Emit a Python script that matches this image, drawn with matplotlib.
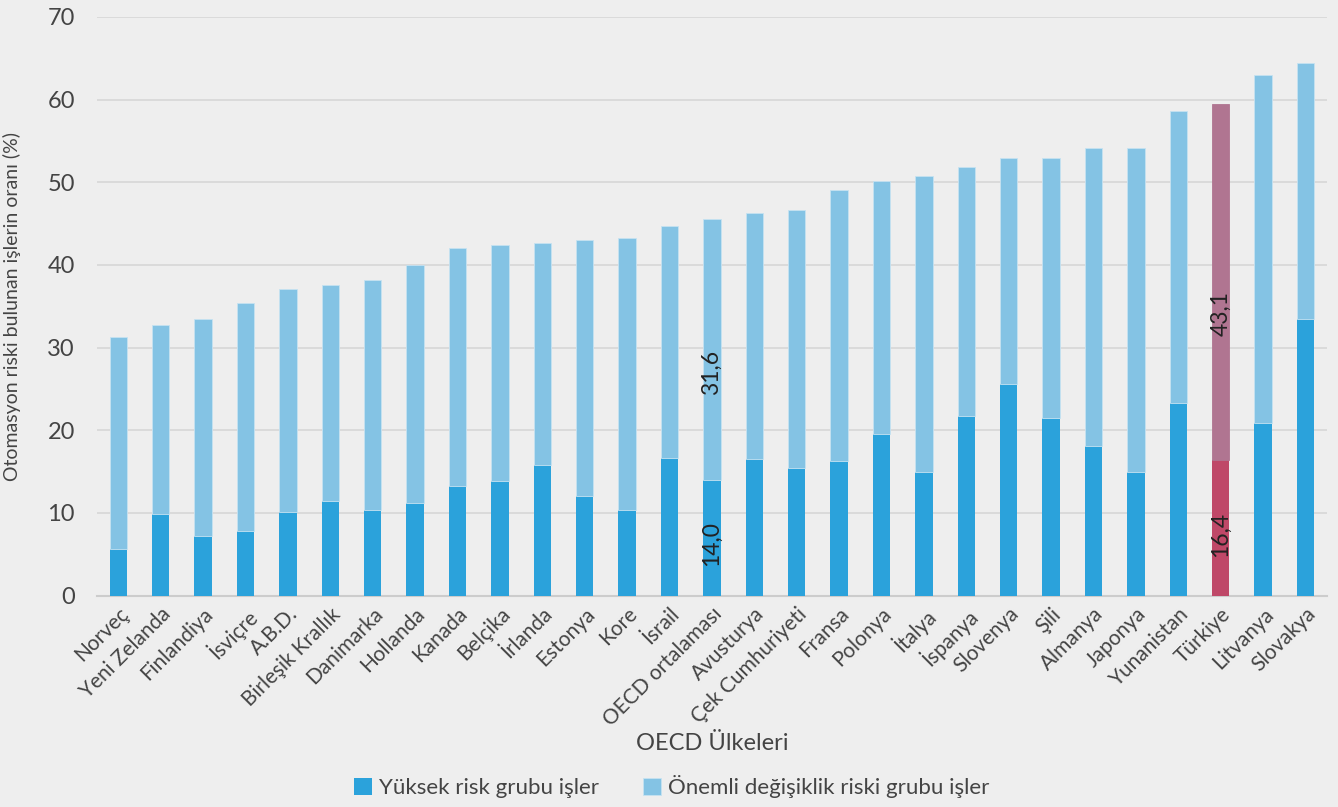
import matplotlib.pyplot as plt

countries = ["Norveç", "Yeni Zelanda", "Finlandiya", "İsviçre", "A.B.D.", "Birleşik Krallık",
             "Danimarka", "Hollanda", "Kanada", "Belçika", "İrlanda", "Estonya", "Kore", "İsrail",
             "OECD ortalaması", "Avusturya", "Çek Cumhuriyeti", "Fransa", "Polonya", "İtalya",
             "İspanya", "Slovenya", "Şili", "Almanya", "Japonya", "Yunanistan", "Türkiye",
             "Litvanya", "Slovakya"]
# high risk share and total share (%)
high_risk = [5.6, 9.9, 7.2, 7.8, 10.1, 11.5, 10.4, 11.2, 13.3, 13.8, 15.8, 12.0, 10.3, 16.6,
             14.0, 16.5, 15.4, 16.3, 19.6, 15.0, 21.7, 25.6, 21.5, 18.1, 14.9, 23.3, 16.4,
             20.9, 33.5]
total = [31.3, 32.7, 33.5, 35.4, 37.1, 37.6, 38.2, 40.0, 42.0, 42.4, 42.6, 43.0, 43.2, 44.7,
         45.6, 46.3, 46.6, 49.1, 50.2, 50.7, 51.8, 52.9, 52.9, 54.2, 54.2, 58.6, 59.5,
         63.0, 64.4]
change_risk = [round(t - h, 1) for t, h in zip(total, high_risk)]
labelled = ["OECD ortalaması", "Türkiye"]

plt.rcParams['font.family'] = ['Lato', 'DejaVu Sans']
bg = "#eeeeee"
dark = "#2ba2db"
light = "#84c3e4"
red_dark = "#bf4868"
red_light = "#b07591"
txt = "#444444"

fig = plt.figure(figsize=(13.38, 8.07), dpi=100, facecolor=bg)
ax = fig.add_axes([0.0725, 0.262, 0.919, 0.717], facecolor=bg)

x = list(range(len(countries)))
c_low = [red_dark if c == "Türkiye" else dark for c in countries]
c_high = [red_light if c == "Türkiye" else light for c in countries]
e_high = [red_light if c == "Türkiye" else "#c6e2f1" for c in countries]
ax.bar(x, high_risk, width=0.41, color=c_low, zorder=3, label="Yüksek risk grubu işler")
ax.bar(x, change_risk, width=0.41, bottom=high_risk, color=c_high, edgecolor=e_high,
       linewidth=0.6, zorder=3, label="Önemli değişiklik riski grubu işler")

for i, c in enumerate(countries):
    if c in labelled:
        ax.text(i, high_risk[i] * 0.45, f"{high_risk[i]:.1f}".replace(".", ","), rotation=90,
                ha="center", va="center", fontsize=16.5, color="#222222", zorder=4)
        ax.text(i, high_risk[i] + change_risk[i] * 0.41, f"{change_risk[i]:.1f}".replace(".", ","),
                rotation=90, ha="center", va="center", fontsize=16.5, color="#222222", zorder=4)

ax.set_ylim(0, 70)
ax.set_yticks(range(0, 71, 10))
ax.set_xlim(-0.5, len(countries) - 0.5)
ax.grid(axis="y", color="#d6d6d6", linewidth=1.2, zorder=0)
for s in ["top", "right", "left"]:
    ax.spines[s].set_visible(False)
ax.spines["bottom"].set_color("#cccccc")
ax.spines["bottom"].set_linewidth(1.5)
ax.tick_params(axis="both", length=0, colors=txt)
ax.tick_params(axis="y", labelsize=17, pad=16)
ax.set_xticks(x)
ax.set_xticklabels(countries, rotation=45, ha="right", rotation_mode="anchor", fontsize=15)
ax.tick_params(axis="x", pad=6)
ax.set_ylabel("Otomasyon riski bulunan işlerin oranı (%)", fontsize=14, color=txt)
ax.yaxis.set_label_coords(-0.062, 0.5)
ax.set_xlabel("OECD Ülkeleri", fontsize=17, color=txt)
ax.xaxis.set_label_coords(0.5, -0.238)

fig.legend(loc="center", bbox_to_anchor=(0.502, 0.025), ncol=2, frameon=False,
           fontsize=16, handlelength=0.8, handleheight=0.8, columnspacing=2.0,
           handletextpad=0.3, labelcolor=txt)

fig.savefig("out.png", dpi=100, facecolor=bg)
